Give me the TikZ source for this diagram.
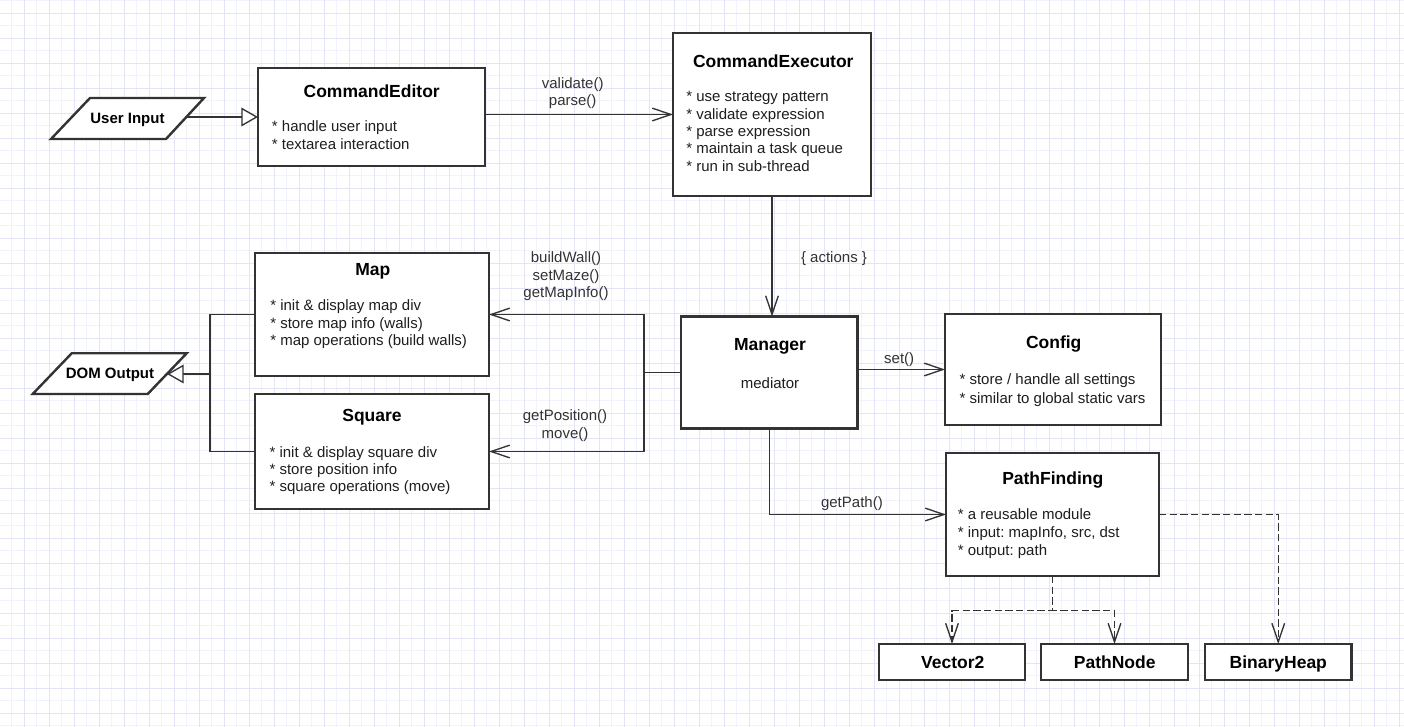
\documentclass[tikz,border=0pt]{standalone}
\usepackage{fontspec}
\setmainfont{Liberation Sans}
\usetikzlibrary{arrows.meta}
\frenchspacing
\definecolor{bordc}{HTML}{333333}
\definecolor{linec}{HTML}{333333}
\definecolor{txtc}{HTML}{1E1E1E}
\definecolor{lblc}{HTML}{333333}
\definecolor{gmajc}{HTML}{E4E4F7}
\definecolor{gminc}{HTML}{F2F2FC}
\tikzset{
  box/.style 2 args={draw=bordc, line width=1.8pt, fill=white, rectangle, inner sep=0pt, outer sep=0pt,
    minimum width=#1*0.75pt, minimum height=#2*0.75pt},
  para/.style={draw=bordc, line width=1.8pt, fill=white, line join=miter},
  ttl/.style={font=\fontsize{13.125}{15}\selectfont\bfseries, text=black, inner sep=0pt, anchor=base},
  ptxt/.style={font=\fontsize{11.25}{13}\selectfont\bfseries, text=black, inner sep=0pt, anchor=base},
  bodytxt/.style={font=\fontsize{11.25}{13}\selectfont, text=txtc, inner sep=0pt, anchor=base west},
  lbl/.style={font=\fontsize{11.25}{13}\selectfont, text=lblc, inner sep=0pt, anchor=base},
  conn/.style={draw=linec, line width=1pt},
  dconn/.style={draw=linec, line width=1pt, dash pattern=on 5.5pt off 2.5pt},
  openarrow/.style={-{Straight Barb[length=14pt,width=9.5pt,line width=1pt]}},
  hollowarrow/.style={-{Triangle[length=12.5pt,width=14pt,fill=white,line width=1pt]}},
  gmaj/.style={draw=gmajc, line width=0.75pt},
  gmin/.style={draw=gminc, line width=0.75pt}
}
\begin{document}
\begin{tikzpicture}[x=0.75pt,y=-0.75pt]
\useasboundingbox (0,0) rectangle (1404,727);
\fill[white] (0,0) rectangle (1404,727);
% grid
\begin{scope}
\clip (0,0) rectangle (1404,727);
\foreach \k in {0,...,56} {\draw[gmin] ({11.5+25*\k},0) -- ({11.5+25*\k},727);}
\foreach \k in {0,...,29} {\draw[gmin] (0,{0.8+25*\k}) -- (1404,{0.8+25*\k});}
\foreach \k in {0,...,56} {\draw[gmaj] ({24+25*\k},0) -- ({24+25*\k},727);}
\foreach \k in {0,...,29} {\draw[gmaj] (0,{13.3+25*\k}) -- (1404,{13.3+25*\k});}
\end{scope}

% parallelograms
\draw[para] (51,139) -- (90,98) -- (204,98) -- (166,139) -- cycle;
\node[ptxt] (ui) at (127.5,124) {User Input};
\coordinate (uiR) at (186.4,117);
\draw[para] (32.7,394) -- (71.7,353.3) -- (186.7,353.3) -- (147.7,394) -- cycle;
\node[ptxt] (dom) at (110,378.4) {DOM Output};
\coordinate (domR) at (167,374);

% boxes
\node[box={227}{98}] (ce) at (371.5,117) {};
\node[box={198}{163}] (cx) at (772,114.5) {};
\node[box={234}{123}] (map) at (372,314.5) {};
\node[box={234}{115}] (sq) at (372,451.5) {};
\node[box={176.5}{112}] (mgr) at (769.25,372.5) {};
\node[box={216}{111}] (cfg) at (1053,369.5) {};
\node[box={213}{123}] (pf) at (1052.5,514.5) {};
\node[box={146}{36}] (v2) at (952,662) {};
\node[box={147}{36}] (pn) at (1114.5,662) {};
\node[box={146.5}{36}] (bh) at (1278.25,662) {};

% CommandEditor
\node[ttl] (cet) at (371.7,97.5) {CommandEditor};
\node[bodytxt] (ce1) at (271.7,132) {* handle user input};
\node[bodytxt] (ce2) at (271.7,149.3) {* textarea interaction};
% CommandExecutor
\node[ttl] (cxt) at (773.3,67.5) {CommandExecutor};
\node[bodytxt] (cx1) at (686,101.7) {* use strategy pattern};
\node[bodytxt] (cx2) at (686,119.1) {* validate expression};
\node[bodytxt] (cx3) at (686,136.5) {* parse expression};
\node[bodytxt] (cx4) at (686,153.9) {* maintain a task queue};
\node[bodytxt] (cx5) at (686,171.2) {* run in sub-thread};
% Map
\node[ttl] (mapt) at (372.8,275.8) {Map};
\node[bodytxt] (map1) at (270,311) {* init \& display map div};
\node[bodytxt] (map2) at (270,328.6) {* store map info (walls)};
\node[bodytxt] (map3) at (270,346) {* map operations (build walls)};
% Square
\node[ttl] (sqt) at (372,421.5) {Square};
\node[bodytxt] (sq1) at (269.3,457) {* init \& display square div};
\node[bodytxt] (sq2) at (269.3,474.5) {* store position info};
\node[bodytxt] (sq3) at (269.3,491.8) {* square operations (move)};
% Manager
\node[ttl] (mgrt) at (770,351) {Manager};
\node[lbl, text=txtc] (mgr1) at (770,388) {mediator};
% Config
\node[ttl] (cfgt) at (1053.7,348.5) {Config};
\node[bodytxt] (cfg1) at (959.3,385) {* store / handle all settings};
\node[bodytxt] (cfg2) at (959.3,403) {* similar to global static vars};
% PathFinding
\node[ttl] (pft) at (1052.8,484.8) {PathFinding};
\node[bodytxt] (pf1) at (957.6,519.3) {* a reusable module};
\node[bodytxt] (pf2) at (957.6,537.3) {* input: mapInfo, src, dst};
\node[bodytxt] (pf3) at (957.6,555) {* output: path};
% small boxes
\node[ttl] (v2t) at (952.7,668.5) {Vector2};
\node[ttl] (pnt) at (1114.7,668.5) {PathNode};
\node[ttl] (bht) at (1278.3,668.5) {BinaryHeap};

% connectors
\draw[conn, hollowarrow] (uiR) -- (ce.west);
\draw[conn, openarrow] (ce.east |- cx.west) -- (cx.west);
\node[lbl] (l1) at (572.7,88.3) {validate()};
\node[lbl] (l2) at (572.7,106) {parse()};

\draw[conn, openarrow] (cx.south) -- (cx.south |- mgr.north);
\node[lbl] (l3) at (834,262.5) {\{ actions \}};

\coordinate (mj) at (644,372.5);
\draw[conn] (mgr.west) -- (mj);
\draw[conn, openarrow] (mj) |- (map.east);
\draw[conn, openarrow] (mj) |- (sq.east);
\node[lbl] (l4) at (566,262.7) {buildWall()};
\node[lbl] (l5) at (566,280.3) {setMaze()};
\node[lbl] (l6) at (566,297.7) {getMapInfo()};
\node[lbl] (l7) at (565,421) {getPosition()};
\node[lbl] (l8) at (565,438.7) {move()};

\coordinate (dj) at (210,374);
\draw[conn] (map.west) -| (dj) |- (sq.west);
\draw[conn, hollowarrow] (dj) -- (domR);

\draw[conn, openarrow] (mgr.east |- cfg.west) -- (cfg.west);
\node[lbl] (l9) at (899.2,363.7) {set()};

\draw[conn, openarrow] (mgr.south) |- (pf.west);
\node[lbl] (l10) at (851.9,507.7) {getPath()};

\coordinate (pj) at (1052.5,610.7);
\draw[dconn, openarrow] (pf.south) -- (pj) -| (v2.north);
\draw[dconn, openarrow] (pf.south) -- (pj) -| (pn.north);
\draw[dconn, openarrow] (pf.east) -| (bh.north);
\end{tikzpicture}
\end{document}
